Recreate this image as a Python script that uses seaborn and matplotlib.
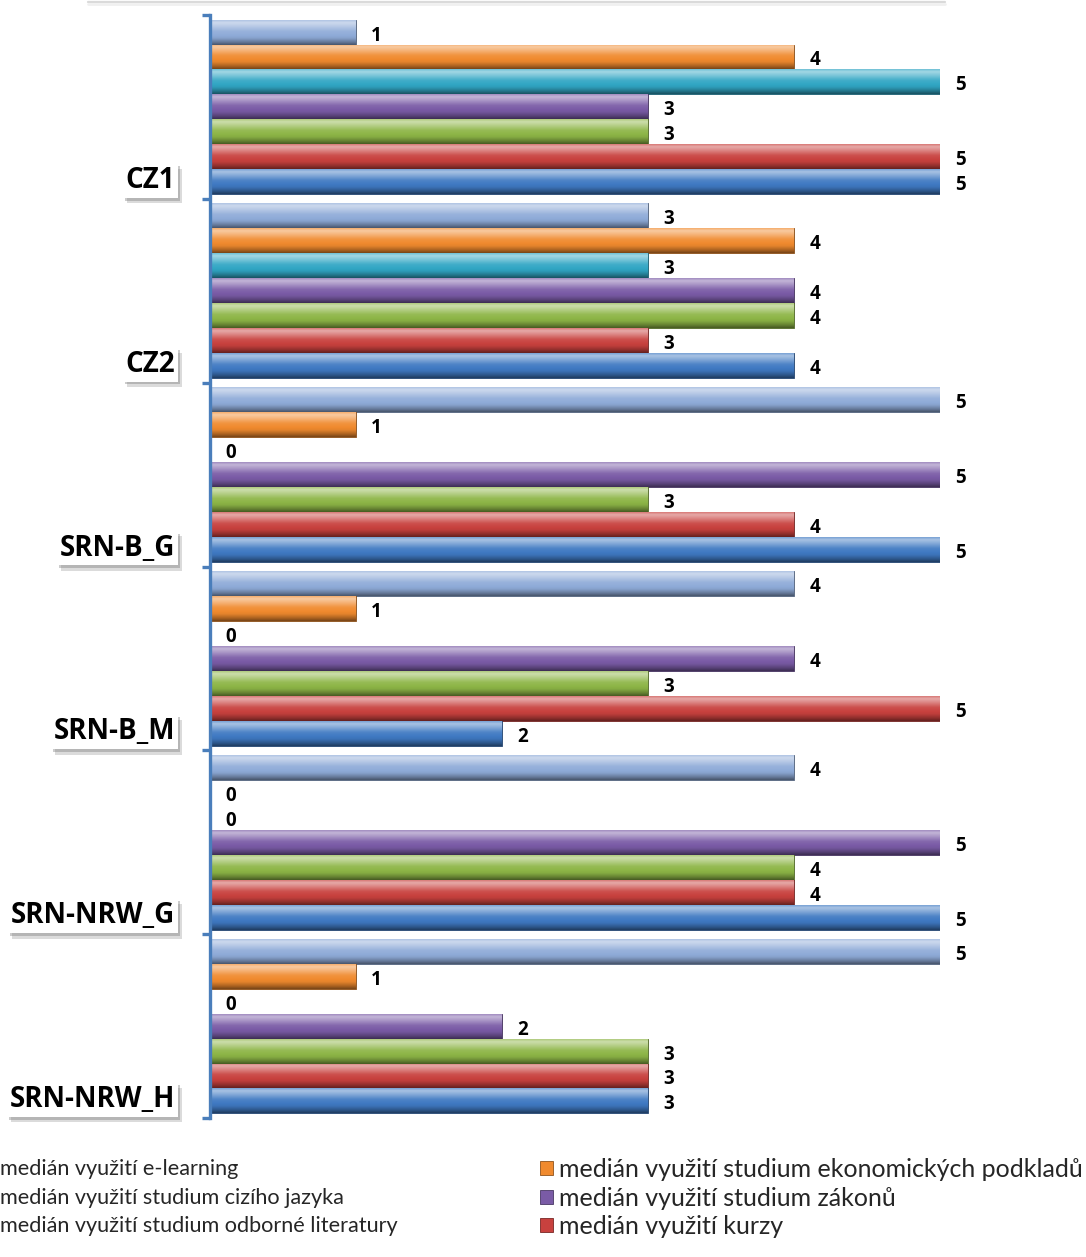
import numpy as np
import pandas as pd
import matplotlib
matplotlib.use("Agg")
import matplotlib.pyplot as plt
import matplotlib.colors as mcolors
import matplotlib.patheffects as pe
from matplotlib.lines import Line2D
from matplotlib.patches import Patch
import seaborn as sns

# --- data -------------------------------------------------------------
categories = ["CZ1", "CZ2", "SRN-B_G", "SRN-B_M", "SRN-NRW_G", "SRN-NRW_H"]

series_names = [
    "medián využití e-learning",
    "medián využití studium ekonomických podkladů",
    "medián využití studium cizího jazyka",
    "medián využití studium zákonů",
    "medián využití studium odborné literatury",
    "medián využití kurzy",
    "medián využití ostatní",
]

e_learning = [1, 3, 5, 4, 4, 5]
ekonomicke_podklady = [4, 4, 1, 1, 0, 1]
cizi_jazyk = [5, 3, 0, 0, 0, 0]
zakony = [3, 4, 5, 4, 5, 2]
odborna_literatura = [3, 4, 3, 3, 4, 3]
kurzy = [5, 3, 4, 5, 4, 3]
ostatni = [5, 4, 5, 2, 5, 3]

series_values = [e_learning, ekonomicke_podklady, cizi_jazyk, zakony,
                 odborna_literatura, kurzy, ostatni]

series_colors = ["#8FABD8", "#F08A2E", "#31A6C4", "#7A5BA6",
                 "#8DB546", "#C8413E", "#3F79C2"]

rows = []
for name, vals in zip(series_names, series_values):
    for cat, v in zip(categories, vals):
        rows.append({"skupina": cat, "serie": name, "hodnota": v})
df = pd.DataFrame(rows)

# --- style ------------------------------------------------------------
sns.set_style("white")
plt.rcParams["font.family"] = ["Lato", "DejaVu Sans"]
BOLD_FAMILY = ["Open Sans", "DejaVu Sans"]

W, H, DPI = 1086, 1257, 100
fig = plt.figure(figsize=(W / DPI, H / DPI), dpi=DPI)
ax_left, ax_right, ax_top, ax_bottom = 210, 940, 15, 1118
ax = fig.add_axes([ax_left / W, 1 - ax_bottom / H,
                   (ax_right - ax_left) / W, (ax_bottom - ax_top) / H])

palette = dict(zip(series_names, series_colors))
sns.barplot(data=df, y="skupina", x="hodnota", hue="serie",
            order=categories, hue_order=series_names, palette=palette,
            orient="h", width=0.95, gap=0, dodge=True, ax=ax,
            legend=False, saturation=1, edgecolor="none", linewidth=0)


def shade(color, f):
    rgb = np.array(mcolors.to_rgb(color))
    if f >= 0:
        return rgb + (1 - rgb) * f
    return rgb * (1 + f)


# glossy vertical gradient on every bar
stops = [(0.0, 0.30), (0.10, 0.55), (0.22, 0.40), (0.45, 0.08),
         (0.72, -0.05), (0.88, -0.28), (1.0, -0.50)]
for container, col in zip(ax.containers, series_colors):
    tvals = np.linspace(0, 1, 64)
    pos = [s[0] for s in stops]
    grad = np.zeros((64, 1, 3))
    for i, t in enumerate(tvals):
        f = np.interp(t, pos, [s[1] for s in stops])
        grad[i, 0, :] = np.clip(shade(col, f), 0, 1)
    for patch in container.patches:
        x0, y0 = patch.get_x(), patch.get_y()
        w, h = patch.get_width(), patch.get_height()
        if w <= 0:
            continue
        im = ax.imshow(grad, extent=[x0, x0 + w, y0 + h, y0], aspect="auto",
                       interpolation="bilinear", zorder=patch.get_zorder() + 0.1)
        im.set_clip_path(patch)
        patch.set_edgecolor(shade(col, -0.45))
        patch.set_linewidth(0.6)

ax.set_xlim(0, 5)
ax.set_ylim(len(categories) - 0.5, -0.5)

# value labels, nudged slightly below the bar centre
for container in ax.containers:
    labels = ax.bar_label(container, fmt="%.0f", padding=11, fontsize=13.5,
                          fontweight="bold", family=BOLD_FAMILY,
                          color="black", clip_on=False)
    for lab in labels:
        dx, dy = lab.xyann
        lab.xyann = (dx, dy - 2.5)

# axes decoration
for s in ["top", "right", "bottom"]:
    ax.spines[s].set_visible(False)
ax.spines["left"].set_color("#4A7EBB")
ax.spines["left"].set_linewidth(2.4)
ax.set_xticks([])
ax.set_yticks(np.arange(len(categories)))
ax.set_yticklabels([])
ax.set_yticks(np.arange(-0.5, len(categories) + 0.5, 1.0), minor=True)
ax.tick_params(axis="y", which="major", left=False, length=0)
ax.tick_params(axis="y", which="minor", left=True, length=6, width=2.4,
               color="#4A7EBB", direction="out")
ax.set_xlabel("")
ax.set_ylabel("")
ax.grid(False)

# category labels in white boxes with a drop shadow
for i, cat in enumerate(categories):
    t = ax.annotate(cat, xy=(0, i + 0.40), xycoords=("axes fraction", "data"),
                    xytext=(-25, 0), textcoords="offset points",
                    ha="right", va="center", fontsize=20, fontweight="bold",
                    family=BOLD_FAMILY, color="black", annotation_clip=False,
                    bbox=dict(boxstyle="square,pad=0.1", fc="white", ec="none"))
    t.get_bbox_patch().set_path_effects(
        [pe.SimplePatchShadow(offset=(3, -4), shadow_rgbFace="#9A9A9A", alpha=0.35),
         pe.SimplePatchShadow(offset=(1.5, -2), shadow_rgbFace="#6E6E6E", alpha=0.35),
         pe.Normal()])

# faint frame edge at the very top
fig.add_artist(Line2D([88 / W, 945 / W], [1 - 1.5 / H, 1 - 1.5 / H],
                      transform=fig.transFigure, color="#DADADA", lw=1.6))
fig.add_artist(Line2D([88 / W, 945 / W], [1 - 3.5 / H, 1 - 3.5 / H],
                      transform=fig.transFigure, color="#F0F0F0", lw=2.0))

# legend in two columns
left_idx = [0, 2, 4]
right_idx = [1, 3, 5]


def make_handles(idx):
    return [Patch(facecolor=series_colors[k], edgecolor=shade(series_colors[k], -0.4),
                  linewidth=0.6) for k in idx]


common = dict(frameon=False, borderpad=0, borderaxespad=0, loc="upper left")
leg1 = fig.legend(make_handles(left_idx), [series_names[k] for k in left_idx],
                  bbox_to_anchor=(-16 / W, 1 - 1159 / H), fontsize=15.6,
                  handlelength=0.5, handleheight=0.5, handletextpad=0.25,
                  labelspacing=0.40, **common)
leg2 = fig.legend(make_handles(right_idx), [series_names[k] for k in right_idx],
                  bbox_to_anchor=(540 / W, 1 - 1158 / H), fontsize=18,
                  handlelength=0.5, handleheight=0.5, handletextpad=0.25,
                  labelspacing=0.22, **common)

fig.savefig("out.png", dpi=DPI)
